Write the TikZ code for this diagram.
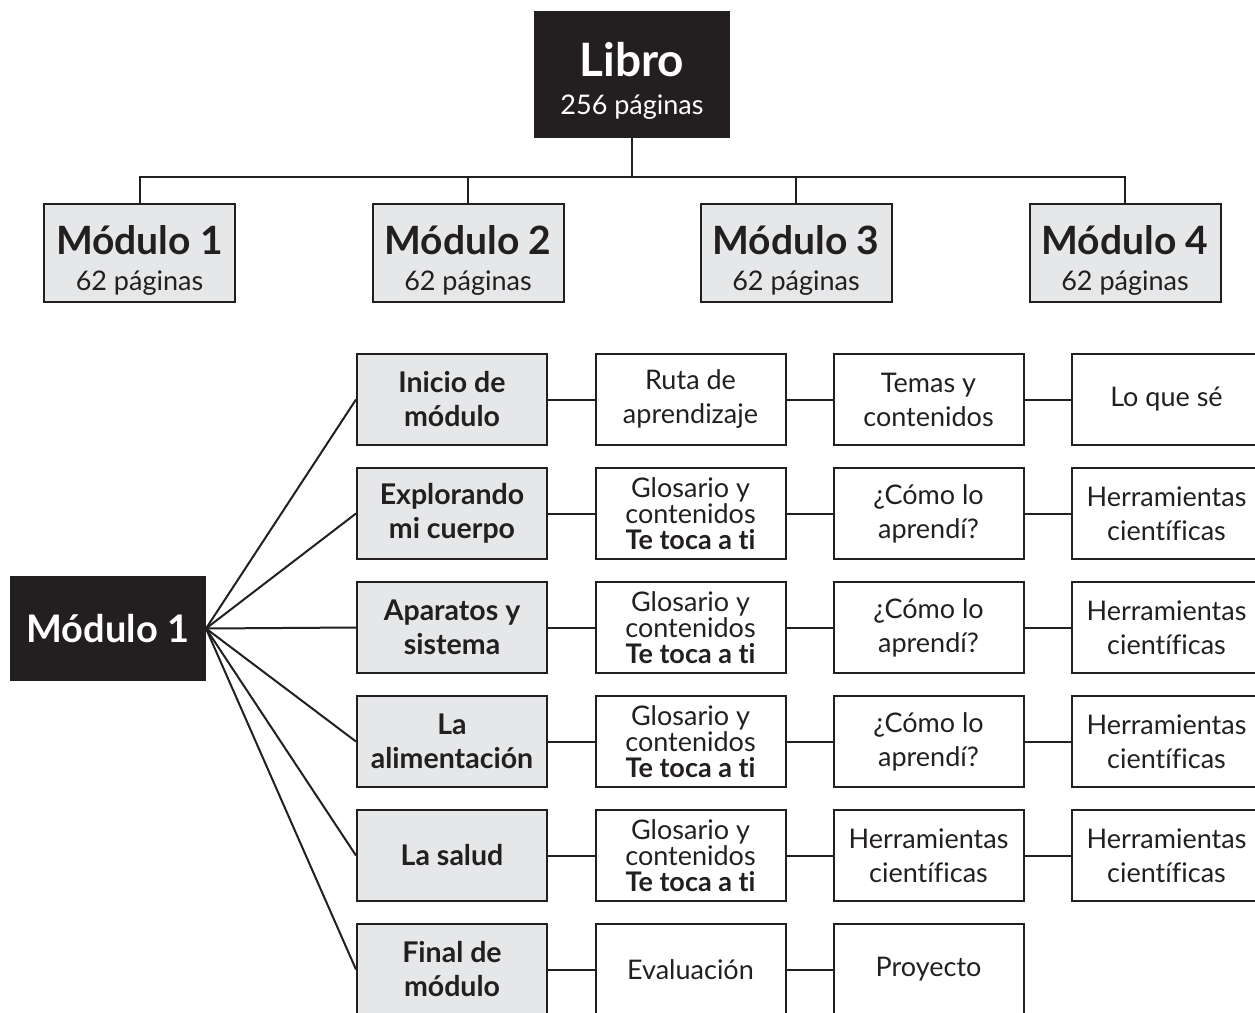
\documentclass[tikz,border=0pt]{standalone}
\usepackage{fontspec}
\setmainfont{Lato}[Ligatures={TeX,CommonOff}]
\definecolor{ink}{HTML}{231F20}
\definecolor{lgray}{HTML}{E6E7E8}
\begin{document}
\begin{tikzpicture}[x=1pt,y=-1pt,
  base/.style={draw=ink, line width=2pt, align=center, inner sep=0pt, text=ink},
  cell/.style={base, minimum width=190pt, minimum height=91pt, font=\fontsize{27}{34}\selectfont},
  gcell/.style={cell, fill=lgray, font=\fontsize{28.5}{34}\selectfont\bfseries},
  tight/.style={cell, font=\fontsize{27}{26}\selectfont},
  modbox/.style={base, fill=lgray, minimum width=191pt, minimum height=98pt},
  modtext/.style={align=center, inner sep=0pt, text=ink, font=\fontsize{27}{36}\selectfont},
  darkbox/.style={base, fill=ink, text=white},
  link/.style={draw=ink, line width=2pt}]
\useasboundingbox (0,0) rectangle (1255,1012);

% top tree
\node[darkbox, minimum width=194pt, minimum height=125pt] (libro) at (632,74.5) {};
\node[modtext, text=white, font=\fontsize{27}{38}\selectfont] (librotext) at ([yshift=-6pt]libro.center)
  {{\fontsize{46}{46}\selectfont\bfseries Libro}\\256 páginas};
\foreach \i/\x in {1/139.5,2/468,3/796,4/1125}{
  \node[modbox] (mod\i) at (\x,253) {};
  \node[modtext] (modtext\i) at ([yshift=-7pt]mod\i.center)
    {{\fontsize{39}{39}\selectfont\bfseries Módulo \i}\\62 páginas};
}
\coordinate (hub) at (632,177);
\draw[link] (libro.south) -- (hub);
\draw[link] (mod1.north) |- (hub) -| (mod4.north);
\draw[link] (mod2.north) -- (mod2.north |- hub);
\draw[link] (mod3.north) -- (mod3.north |- hub);

% module 1 detail
\node[darkbox, minimum width=194pt, minimum height=103pt, font=\fontsize{38}{40}\selectfont\bfseries] (m1) at (108,628.5) {Módulo 1};

% column 1 (gray)
\node[gcell] (g1) at (452,399.5) {Inicio de\\módulo};
\node[gcell] (g2) at (452,513.5) {Explorando\\mi cuerpo};
\node[gcell] (g3) at (452,627.5) {Aparatos y\\sistema};
\node[gcell] (g4) at (452,741.5) {La\\alimentación};
\node[gcell] (g5) at (452,855.5) {La salud};
\node[gcell] (g6) at (452,969.5) {Final de\\módulo};

% column 2
\node[cell] (b1) at (690.5,399.5) {Ruta de\\aprendizaje};
\node[tight] (b2) at (690.5,513.5) {Glosario y\\contenidos\\\textbf{Te toca a ti}};
\node[tight] (b3) at (690.5,627.5) {Glosario y\\contenidos\\\textbf{Te toca a ti}};
\node[tight] (b4) at (690.5,741.5) {Glosario y\\contenidos\\\textbf{Te toca a ti}};
\node[tight] (b5) at (690.5,855.5) {Glosario y\\contenidos\\\textbf{Te toca a ti}};
\node[cell] (b6) at (690.5,969.5) {Evaluación};

% column 3
\node[cell] (c1) at (928.5,399.5) {Temas y\\contenidos};
\node[cell] (c2) at (928.5,513.5) {¿Cómo lo\\aprendí?};
\node[cell] (c3) at (928.5,627.5) {¿Cómo lo\\aprendí?};
\node[cell] (c4) at (928.5,741.5) {¿Cómo lo\\aprendí?};
\node[cell] (c5) at (928.5,855.5) {Herramientas\\científicas};
\node[cell] (c6) at (928.5,969.5) {Proyecto};

% column 4
\node[cell] (d1) at (1166.5,399.5) {Lo que sé};
\node[cell] (d2) at (1166.5,513.5) {Herramientas\\científicas};
\node[cell] (d3) at (1166.5,627.5) {Herramientas\\científicas};
\node[cell] (d4) at (1166.5,741.5) {Herramientas\\científicas};
\node[cell] (d5) at (1166.5,855.5) {Herramientas\\científicas};

% connectors
\foreach \k in {1,...,6}{
  \draw[link] (m1.east) -- (g\k.west);
  \draw[link] (g\k) -- (b\k);
  \draw[link] (b\k) -- (c\k);
}
\foreach \k in {1,...,5}{
  \draw[link] (c\k) -- (d\k);
}
\end{tikzpicture}
\end{document}
